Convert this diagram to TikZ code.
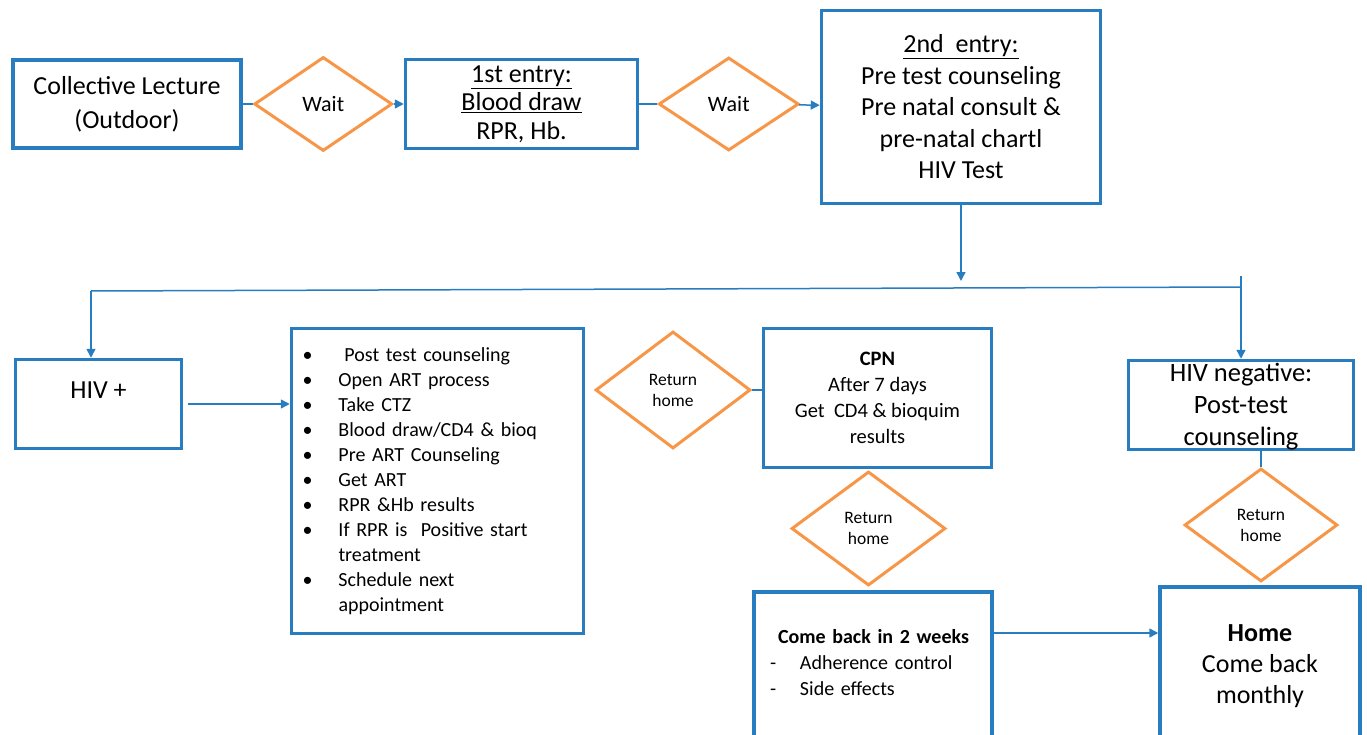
\documentclass[tikz,border=0pt]{standalone}
\usepackage{fontspec}
\setmainfont{Carlito}
\usepackage{tikz}
\usetikzlibrary{shapes.geometric}
\usetikzlibrary{arrows.meta}
\usetikzlibrary{positioning}

\definecolor{boxblue}{RGB}{40,125,192}
\definecolor{waitorange}{RGB}{247,150,70}

\newcommand{\bigtext}{\fontsize{26}{31}\selectfont}
\newcommand{\midtext}{\fontsize{20}{25}\selectfont}
\newcommand{\waittext}{\fontsize{22}{26}\selectfont}
\newcommand{\smalltext}{\fontsize{17.5}{21}\selectfont}
\newcommand{\listline}[1]{\makebox[36pt][l]{\textbullet}#1}
\newcommand{\dashline}[1]{\makebox[30pt][l]{-}#1}

\begin{document}
\begin{tikzpicture}[x=1pt,y=-1pt,>={Triangle[length=9pt,width=9pt]},
                    box node/.style={rectangle,draw=boxblue,line width=3.5pt,align=center,font=\bigtext},
                    wait node/.style={diamond,draw=waitorange,line width=3pt,inner sep=0pt,align=center,font=\smalltext},
                    link/.style={boxblue,line width=1.5pt}]

  \useasboundingbox (0,0) rectangle (1367,735);

  \node[box node,minimum width=228pt,minimum height=88pt,font=\fontsize{26}{34}\selectfont] (lecture) at (127,104) {Collective Lecture\\(Outdoor)};
  \node[wait node,minimum width=138pt,minimum height=94pt,font=\waittext] (wait1) [right=10pt of lecture] {Wait};
  \node[box node,minimum width=232pt,minimum height=89pt,font=\fontsize{26}{28.5}\selectfont] (entryone) [right=10pt of wait1]
       {\underline{1st entry:}\\\underline{Blood draw}\\RPR, Hb.};
  \node[wait node,minimum width=140pt,minimum height=93pt,font=\waittext] (wait2) [right=18pt of entryone] {Wait};
  \node[box node,minimum width=279pt,minimum height=193pt,font=\fontsize{26}{31.5}\selectfont] (entrytwo) at (961,107)
       {\underline{2nd\ \ entry:}\\Pre test counseling\\Pre natal consult \&\\pre-natal chartl\\HIV Test};

  \node[box node,minimum width=166pt,minimum height=89pt,text depth=28pt] (hivpos) at (98.5,404) {HIV +};
  \node[box node,minimum width=292pt,minimum height=305pt,font=\midtext,align=left,text width=270pt] (steps) at (437.5,481)
       {\listline{\hspace{6pt}Post test counseling}\\
        \listline{Open ART process}\\
        \listline{Take CTZ}\\
        \listline{Blood draw/CD4 \& bioq}\\
        \listline{Pre ART Counseling}\\
        \listline{Get ART}\\
        \listline{RPR \&Hb results}\\
        \listline{If RPR is\ \ Positive start}\\
        \makebox[36pt]{}treatment\\
        \listline{Schedule next}\\
        \makebox[36pt]{}appointment};
  \node[wait node,minimum width=155pt,minimum height=117pt] (retone) at (673,390) {Return\\home};
  \node[box node,minimum width=228pt,minimum height=139pt,font=\fontsize{20.5}{26}\selectfont] (cpn) at (877.5,398)
       {\textbf{CPN}\\After 7 days\\Get\ \ CD4 \& bioquim\\results};
  \node[wait node,minimum width=154pt,minimum height=114pt] (rettwo) at (868.5,528.5) {Return\\home};
  \node[box node,minimum width=238pt,minimum height=153pt,font=\fontsize{20}{26}\selectfont,align=left,text width=206pt,text depth=64pt] (comeback) at (873,668.5)
       {\hspace*{8pt}\textbf{Come back in 2 weeks}\\
        \dashline{Adherence control}\\
        \dashline{Side effects}};

  \node[box node,minimum width=225pt,minimum height=89pt,inner sep=0pt,font=\fontsize{26.5}{32}\selectfont,text depth=1pt] (hivneg) at (1241,405) {HIV negative:\\Post-test\\counseling};
  \node[wait node,minimum width=153pt,minimum height=113pt] (retthree) at (1261,525) {Return\\home};
  \node[box node,minimum width=200pt,minimum height=158pt] (home) at (1260,666) {\textbf{Home}\\Come back\\monthly};

  \coordinate (split) at (961,281);
  \coordinate (leftcorner) at (91,291);
  \coordinate (rightcorner) at (1241,287);
  \coordinate (righttop) at (1241,276);
  \coordinate (cbout) at ([yshift=35.5pt]comeback.east);

  \path[link]
    (lecture) edge (wait1)
    (wait1) edge[->] (entryone)
    (entryone) edge (wait2)
    (wait2) edge[->] (entrytwo)
    (entrytwo) edge[->] (split)
    (leftcorner) edge (rightcorner)
    (leftcorner) edge[->] (leftcorner |- hivpos.north)
    (righttop) edge[->] (hivneg)
    (hivpos.east) edge[->,shorten <=5pt] (hivpos.east -| steps.west)
    (retone.east) edge (retone.east -| cpn.west)
    (retthree.north |- hivneg.south) edge (retthree.north)
    (cbout) edge[->] (cbout -| home.west);
\end{tikzpicture}
\end{document}
